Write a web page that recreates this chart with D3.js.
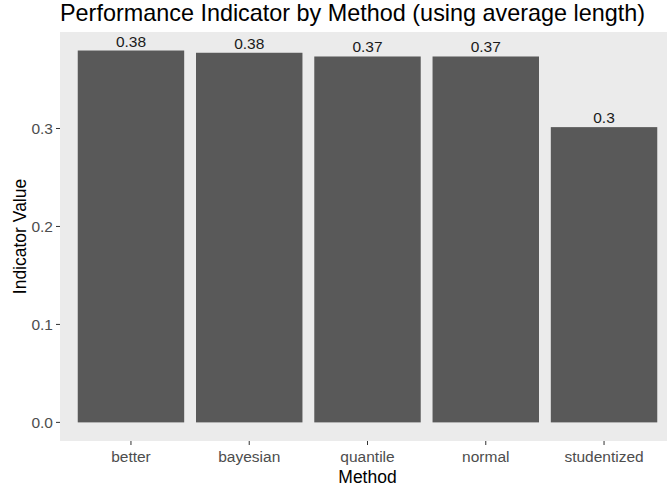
<!DOCTYPE html>
<html>
<head>
<meta charset="utf-8">
<script src="https://cdn.jsdelivr.net/npm/d3@7"></script>
<style>
  body { margin: 0; background: #fff; }
  svg { display: block; font-family: 'Liberation Sans', Arial, sans-serif; }
  .tick-label { fill: #4d4d4d; font-size: 15.5px; }
  .bar-label { fill: #1a1a1a; font-size: 15.5px; }
</style>
</head>
<body>
<svg class="chart" width="667" height="488"></svg>
<script>
const methods = ['better', 'bayesian', 'quantile', 'normal', 'studentized']
const values = [0.3796, 0.3773, 0.3735, 0.3735, 0.3014]
const yTicks = [0.0, 0.1, 0.2, 0.3]

const svg = d3.select('svg.chart')

const panel = { left: 60, right: 675, top: 32, bottom: 441 }

const x = d3.scaleBand()
  .domain(methods)
  .range([panel.left, panel.right])
  .paddingInner(0.1)
  .paddingOuter(0.15)

const y = d3.scaleLinear()
  .domain([-0.019, 0.3985])
  .range([panel.bottom, panel.top])

// panel background
svg.append('rect')
  .attr('x', panel.left)
  .attr('y', panel.top)
  .attr('width', panel.right - panel.left)
  .attr('height', panel.bottom - panel.top)
  .attr('fill', '#ebebeb')

svg.selectAll('rect.bar')
  .data(values)
  .enter()
  .append('rect')
  .attr('class', 'bar')
  .attr('x', (d, i) => x(methods[i]))
  .attr('width', x.bandwidth())
  .attr('y', d => y(d))
  .attr('height', d => y(0) - y(d))
  .attr('fill', '#595959')

svg.selectAll('text.bar-label')
  .data(values)
  .enter()
  .append('text')
  .attr('class', 'bar-label')
  .attr('x', (d, i) => x(methods[i]) + x.bandwidth() / 2)
  .attr('y', d => y(d) - 4)
  .attr('text-anchor', 'middle')
  .text(d => +d.toFixed(2))

// y axis ticks
const yAxis = svg.append('g')
yAxis.selectAll('line')
  .data(yTicks)
  .enter()
  .append('line')
  .attr('x1', panel.left - 4)
  .attr('x2', panel.left)
  .attr('y1', d => y(d))
  .attr('y2', d => y(d))
  .attr('stroke', '#333')
  .attr('stroke-width', 1)

yAxis.selectAll('text')
  .data(yTicks)
  .enter()
  .append('text')
  .attr('class', 'tick-label')
  .attr('x', panel.left - 7)
  .attr('y', d => y(d))
  .attr('dy', '0.35em')
  .attr('text-anchor', 'end')
  .text(d => d.toFixed(1))

// x axis ticks
const xAxis = svg.append('g')
xAxis.selectAll('line')
  .data(methods)
  .enter()
  .append('line')
  .attr('x1', d => x(d) + x.bandwidth() / 2)
  .attr('x2', d => x(d) + x.bandwidth() / 2)
  .attr('y1', panel.bottom)
  .attr('y2', panel.bottom + 4)
  .attr('stroke', '#333')
  .attr('stroke-width', 1)

xAxis.selectAll('text')
  .data(methods)
  .enter()
  .append('text')
  .attr('class', 'tick-label')
  .attr('x', d => x(d) + x.bandwidth() / 2)
  .attr('y', panel.bottom + 21)
  .attr('text-anchor', 'middle')
  .text(d => d)

// titles
svg.append('text')
  .attr('x', (panel.left + panel.right) / 2)
  .attr('y', 483)
  .attr('text-anchor', 'middle')
  .attr('font-size', '17.5px')
  .attr('fill', '#000')
  .text('Method')

svg.append('text')
  .attr('transform', `translate(26, ${(panel.top + panel.bottom) / 2}) rotate(-90)`)
  .attr('text-anchor', 'middle')
  .attr('font-size', '17.5px')
  .attr('fill', '#000')
  .text('Indicator Value')

svg.append('text')
  .attr('x', panel.left)
  .attr('y', 21)
  .attr('font-size', '23.4px')
  .attr('fill', '#000')
  .text('Performance Indicator by Method (using average length)')
</script>
</body>
</html>
